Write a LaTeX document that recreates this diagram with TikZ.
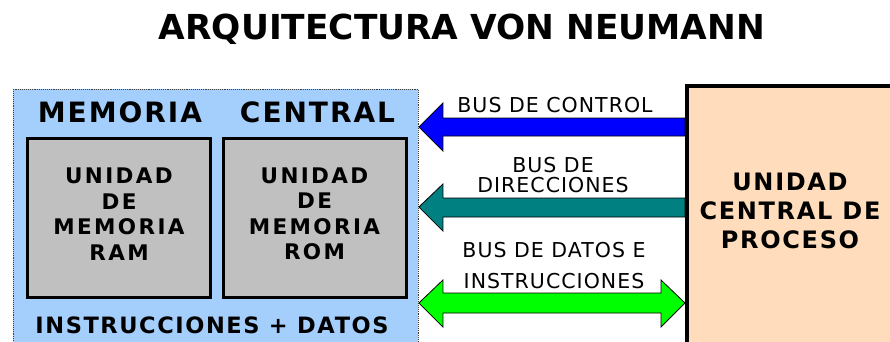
\documentclass[tikz,border=0pt]{standalone}
\usepackage{fontspec}
\setmainfont{DejaVu Sans}
\newfontfamily\headfont[LetterSpace=7]{DejaVu Sans}
\newfontfamily\boxfont[LetterSpace=11]{DejaVu Sans}
\newfontfamily\busfont[LetterSpace=5]{DejaVu Sans}
\usetikzlibrary{calc}
\definecolor{memblue}{HTML}{A4CEFB}
\definecolor{cpupeach}{HTML}{FFDDBC}
\definecolor{romgray}{HTML}{C0C0C0}
\definecolor{busteal}{HTML}{008080}
\definecolor{busgreen}{HTML}{00FF00}
\tikzset{
  membox/.style={draw=black!75, densely dotted, line width=0.9pt, fill=memblue, minimum width=405pt, minimum height=275pt},
  unitbox/.style={draw=black, line width=3pt, fill=romgray, minimum width=183pt, minimum height=159pt},
  unittext/.style={align=center, font=\boxfont\bfseries\fontsize{21.5}{25.5}\selectfont},
  cpubox/.style={draw=black, line width=4pt, fill=cpupeach, minimum width=230pt, minimum height=290pt},
  busline/.style={draw=black, line width=0.8pt},
  buslabel/.style={align=center, font=\busfont\fontsize{20.5}{20}\selectfont},
}
\begin{document}
\begin{tikzpicture}[x=1pt, y=-1pt, line join=miter]
\useasboundingbox (0,0) rectangle (890,341);
\clip (0,0) rectangle (890,341);
\def\hl{24}
% title
\node[font=\bfseries\fontsize{34.4}{34.4}\selectfont] (title) at (462,29) {ARQUITECTURA VON NEUMANN};
% memory
\node[membox, anchor=north west] (mem) at (13,89) {};
\node[font=\headfont\bfseries\fontsize{28}{28}\selectfont] (memtitle) at (216.5,112) {MEMORIA\hspace{38pt}CENTRAL};
\node[unitbox] (ram) at (119,218) {};
\node[unitbox] (rom) at (314.5,218) {};
\node[unittext, yshift=4pt] (ramtext) at (ram) {UNIDAD\\DE\\MEMORIA\\RAM};
\node[unittext, yshift=4pt] (romtext) at (rom) {UNIDAD\\DE\\MEMORIA\\ROM};
\node[font=\headfont\bfseries\fontsize{22.5}{22.5}\selectfont] (memdata) at (212,325) {INSTRUCCIONES + DATOS};
% cpu
\node[cpubox, anchor=north west] (cpu) at (685,84) {};
\node[align=center, font=\headfont\bfseries\fontsize{24}{29}\selectfont] (cputext) at (790,211) {UNIDAD\\CENTRAL DE\\PROCESO};
% buses
\draw[busline, fill=blue] (mem.east |- 0,127) -- ($(mem.east |- 0,103)+(\hl,0)$) -- ($(mem.east |- 0,118)+(\hl,0)$)
  -- (cpu.west |- 0,118) -- (cpu.west |- 0,136) -- ($(mem.east |- 0,136)+(\hl,0)$) -- ($(mem.east |- 0,151)+(\hl,0)$) -- cycle;
\draw[busline, fill=busteal] (mem.east |- 0,207) -- ($(mem.east |- 0,184)+(\hl,0)$) -- ($(mem.east |- 0,198)+(\hl,0)$)
  -- (cpu.west |- 0,198) -- (cpu.west |- 0,217) -- ($(mem.east |- 0,217)+(\hl,0)$) -- ($(mem.east |- 0,231)+(\hl,0)$) -- cycle;
\draw[busline, fill=busgreen] (mem.east |- 0,303) -- ($(mem.east |- 0,280)+(\hl,0)$) -- ($(mem.east |- 0,293)+(\hl,0)$)
  -- ($(cpu.west |- 0,293)+(-\hl,0)$) -- ($(cpu.west |- 0,280)+(-\hl,0)$) -- (cpu.west |- 0,303)
  -- ($(cpu.west |- 0,327)+(-\hl,0)$) -- ($(cpu.west |- 0,313)+(-\hl,0)$) -- ($(mem.east |- 0,313)+(\hl,0)$)
  -- ($(mem.east |- 0,327)+(\hl,0)$) -- cycle;
\node[buslabel] (ctrl) at (555,105) {BUS DE CONTROL};
\node[buslabel] (dir) at (553,175) {BUS DE\\DIRECCIONES};
\node[buslabel, font=\busfont\fontsize{20.5}{31}\selectfont] (datos) at (554,265.5) {BUS DE DATOS E\\INSTRUCCIONES};
\end{tikzpicture}
\end{document}
